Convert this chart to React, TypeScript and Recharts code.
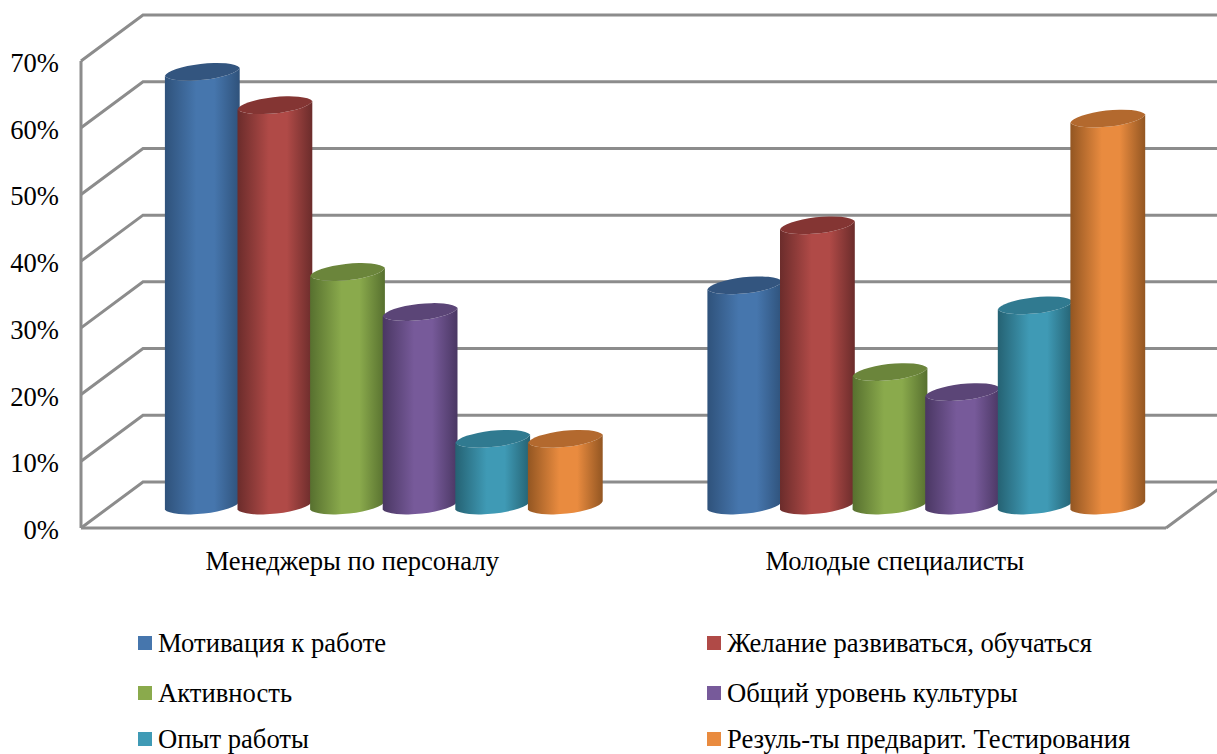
import React from 'react';
import { BarChart, Bar, XAxis, YAxis, CartesianGrid, Legend } from 'recharts';

const FONT = '"Liberation Serif", "Times New Roman", serif';

const groups = ['Менеджеры по персоналу', 'Молодые специалисты'];
const seriesNames = [
  'Мотивация к работе',
  'Желание развиваться, обучаться',
  'Активность',
  'Общий уровень культуры',
  'Опыт работы',
  'Резуль-ты предварит. Тестирования',
];
const managers = [65, 60, 35, 29, 10, 10];
const specialists = [33, 42, 20, 17, 30, 58];
const yTicks = [0, 10, 20, 30, 40, 50, 60, 70];

// Оттенки цилиндров: основной, край, верхняя крышка
const COLORS = ['#4676ad', '#b04a47', '#8aaa4c', '#775a9a', '#3f9ab5', '#e98b3f'];
const EDGES = ['#2f527b', '#6b2c2b', '#57702f', '#4a3763', '#256273', '#935622'];
const CAPS = ['#33557f', '#843533', '#6b853b', '#5b4577', '#307a90', '#b3692e'];

const data = groups.map((name, g) => {
  const row: Record<string, string | number> = { name };
  seriesNames.forEach((s, i) => {
    row[s] = (g === 0 ? managers : specialists)[i];
  });
  return row;
});

// Смещение псевдо-3D: задняя стенка и середина глубины, где стоят столбики
const DEPTH_X = 62;
const DEPTH_Y = 46;
const BAR_DX = 32;
const BAR_DY = 22.5;
const GRID_COLOR = '#8c8c8c';
const FLOOR_Y = 528;

const Cylinder = (props: any) => {
  const { x, y, width, height, index } = props;
  const rx = 38;
  const ry = 9.4;
  const dx = 37.4;
  const dy = 4.2;
  const cx = x + width / 2 + BAR_DX;
  const top = y - BAR_DY;
  const bottom = y + height - BAR_DY;
  const body =
    `M ${cx - dx} ${top + dy} L ${cx - dx} ${bottom + dy} ` +
    `A ${rx} ${ry} -6 0 0 ${cx + dx} ${bottom - dy} ` +
    `L ${cx + dx} ${top - dy} A ${rx} ${ry} -6 0 1 ${cx - dx} ${top + dy} Z`;
  const cap =
    `M ${cx - dx} ${top + dy} A ${rx} ${ry} -6 0 1 ${cx + dx} ${top - dy} ` +
    `A ${rx} ${ry} -6 0 1 ${cx - dx} ${top + dy} Z`;
  return (
    <g>
      <path d={body} fill={`url(#cyl-${index})`} />
      <path d={cap} fill={CAPS[index]} />
    </g>
  );
};

// Линия сетки: по боковой стенке вглубь, затем вдоль задней стенки; у пола ещё и правый край
const gridLine = (props: any) => {
  const { x1, x2, y1 } = props;
  let d = `M ${x1} ${y1} L ${x1 + DEPTH_X} ${y1 - DEPTH_Y} L ${x2 + DEPTH_X} ${y1 - DEPTH_Y}`;
  if (y1 >= FLOOR_Y - 1) d += ` M ${x2} ${y1} L ${x2 + DEPTH_X} ${y1 - DEPTH_Y}`;
  return <path key={`grid-${y1}`} d={d} fill="none" stroke={GRID_COLOR} strokeWidth={3} />;
};

const YTick = (props: any) => {
  const { x, y, payload } = props;
  return (
    <text x={x} y={y + 11} textAnchor="end" fontFamily={FONT} fontSize={26.6} fill="#000">
      {`${payload.value}%`}
    </text>
  );
};

const LEGEND_ROWS = [19, 69, 115];
const LEGEND_COLS = [138, 707];

const LegendBlock = (props: any) => (
  <div style={{ position: 'relative', width: 1217, height: 130, fontFamily: FONT, fontSize: 26.65, color: '#000' }}>
    {props.payload.map((item: any, i: number) => {
      const left = LEGEND_COLS[i % 2];
      const mid = LEGEND_ROWS[Math.floor(i / 2)];
      return (
        <React.Fragment key={item.value}>
          <span
            style={{ position: 'absolute', left, top: mid - 7, width: 14, height: 14, background: item.color }}
          />
          <span
            style={{ position: 'absolute', left: left + 20, top: mid - 13, lineHeight: '26px', whiteSpace: 'nowrap' }}
          >
            {item.value}
          </span>
        </React.Fragment>
      );
    })}
  </div>
);

export default function App() {
  return (
    <div style={{ position: 'absolute', left: 0, top: 0, width: 1217, height: 754, overflow: 'hidden', background: '#fff' }}>
      <BarChart
        width={1217}
        height={754}
        data={data}
        margin={{ top: 61, right: 51, bottom: 0, left: 0 }}
        barGap={0}
      >
        <defs>
          {COLORS.map((c, i) => (
            <linearGradient key={c} id={`cyl-${i}`} x1="0" y1="0" x2="1" y2="0">
              <stop offset="0%" stopColor={EDGES[i]} />
              <stop offset="42%" stopColor={c} />
              <stop offset="66%" stopColor={c} />
              <stop offset="100%" stopColor={EDGES[i]} />
            </linearGradient>
          ))}
        </defs>
        <CartesianGrid vertical={false} horizontal={gridLine} />
        <XAxis
          dataKey="name"
          height={96}
          tickLine={false}
          axisLine={{ stroke: GRID_COLOR, strokeWidth: 3 }}
          tickMargin={17}
          tick={{ fontFamily: FONT, fontSize: 26.6, fill: '#000' }}
        />
        <YAxis
          width={81}
          domain={[0, 70]}
          ticks={yTicks}
          tickLine={false}
          axisLine={{ stroke: GRID_COLOR, strokeWidth: 3 }}
          tickSize={0}
          tickMargin={22}
          tick={<YTick />}
        />
        <Legend
          verticalAlign="bottom"
          height={130}
          itemSorter={null}
          wrapperStyle={{ left: 0 }}
          content={<LegendBlock />}
        />
        {seriesNames.map((s, i) => (
          <Bar
            key={s}
            dataKey={s}
            fill={COLORS[i]}
            barSize={72.6}
            isAnimationActive={false}
            shape={(p: any) => <Cylinder {...p} index={i} />}
          />
        ))}
      </BarChart>
    </div>
  );
}
